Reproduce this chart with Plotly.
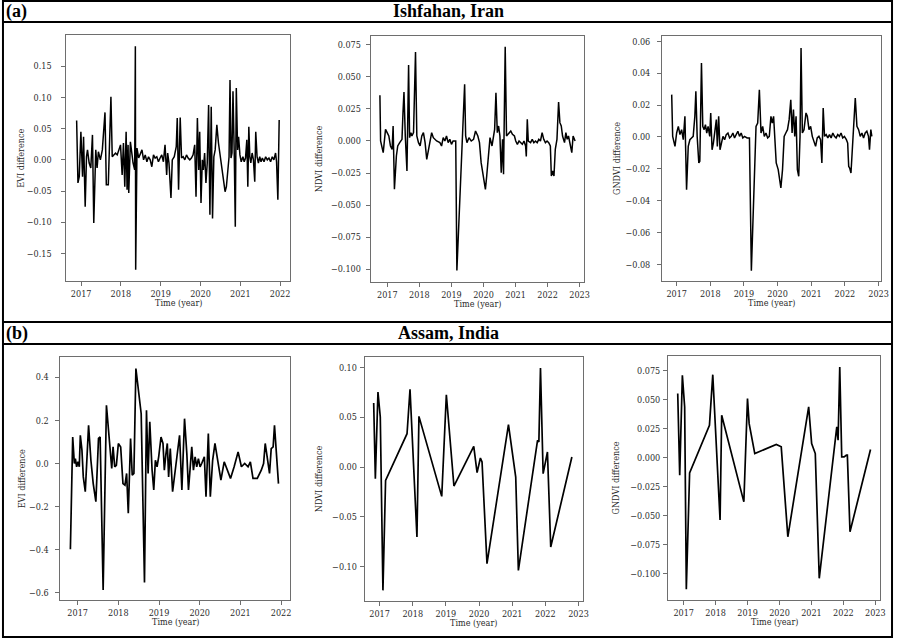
import plotly.graph_objects as go

W, H = 902, 639

# ---------------- Ishfahan, Iran ----------------
evi_a_t = [2016.887, 2016.920, 2016.953, 2016.994, 2017.036, 2017.061, 2017.102, 2017.135, 2017.160, 2017.202,
           2017.243, 2017.285, 2017.318, 2017.368, 2017.401, 2017.434, 2017.484, 2017.533, 2017.600, 2017.633,
           2017.683, 2017.749, 2017.782, 2017.824, 2017.865, 2017.907, 2017.948, 2017.990, 2018.031, 2018.064,
           2018.097, 2018.131, 2018.155, 2018.180, 2018.197, 2018.238, 2018.280, 2018.305, 2018.346, 2018.363,
           2018.371, 2018.404, 2018.446, 2018.487, 2018.529, 2018.570, 2018.611, 2018.653, 2018.694, 2018.736,
           2018.777, 2018.819, 2018.860, 2018.902, 2018.943, 2018.985, 2019.026, 2019.068, 2019.109, 2019.150,
           2019.175, 2019.208, 2019.258, 2019.291, 2019.341, 2019.391, 2019.416, 2019.449, 2019.490, 2019.524,
           2019.565, 2019.606, 2019.648, 2019.689, 2019.731, 2019.772, 2019.814, 2019.855, 2019.888, 2019.922,
           2019.955, 2019.980, 2020.013, 2020.046, 2020.071, 2020.104, 2020.137, 2020.170, 2020.204, 2020.237,
           2020.270, 2020.303, 2020.336, 2020.369, 2020.411, 2020.452, 2020.494, 2020.535, 2020.577, 2020.618,
           2020.651, 2020.684, 2020.718, 2020.742, 2020.767, 2020.792, 2020.817, 2020.850, 2020.875, 2020.900,
           2020.933, 2020.958, 2020.991, 2021.024, 2021.066, 2021.099, 2021.132, 2021.165, 2021.190, 2021.215,
           2021.240, 2021.265, 2021.298, 2021.331, 2021.364, 2021.389, 2021.422, 2021.456, 2021.489, 2021.522,
           2021.555, 2021.597, 2021.638, 2021.679, 2021.721, 2021.762, 2021.804, 2021.845, 2021.887, 2021.912,
           2021.945, 2021.978]
evi_a_v = [0.063, -0.037, -0.027, 0.045, -0.027, 0.037, -0.075, 0.005, 0.016, -0.005,
           -0.013, 0.040, -0.101, 0.016, -0.013, 0.013, 0.000, 0.016, 0.076, -0.040,
           -0.040, 0.101, 0.005, 0.008, 0.011, 0.008, 0.016, 0.024, -0.024, 0.027,
           -0.043, 0.045, -0.048, 0.024, -0.053, 0.029, 0.008, -0.005, -0.016, 0.182,
           -0.176, 0.019, 0.003, 0.011, 0.016, 0.000, 0.008, -0.003, 0.005, 0.000,
           -0.011, 0.008, 0.003, 0.005, -0.003, 0.003, 0.008, -0.003, 0.024, -0.024,
           0.011, -0.005, -0.061, 0.000, 0.005, 0.021, 0.067, -0.048, 0.068, 0.003,
           0.005, 0.000, 0.008, 0.003, 0.000, 0.003, 0.008, 0.024, -0.059, 0.067,
           -0.016, 0.045, -0.069, 0.000, -0.016, 0.011, -0.037, -0.005, 0.088, -0.088,
           0.085, -0.094, 0.005, 0.016, 0.056, 0.027, 0.005, -0.016, -0.035, -0.051,
           -0.043, -0.016, 0.005, 0.128, 0.003, 0.011, 0.110, 0.005, -0.107, 0.115,
           0.016, 0.037, 0.008, -0.003, 0.005, -0.003, 0.003, 0.032, -0.043, 0.053,
           0.005, -0.005, 0.011, 0.000, -0.035, 0.045, 0.005, -0.005, 0.005, -0.003,
           0.003, -0.003, 0.005, 0.000, 0.003, -0.003, 0.005, 0.000, 0.011, -0.003,
           -0.064, 0.064]

ndvi_a_t = [2016.768, 2016.789, 2016.871, 2016.943, 2016.994, 2017.046, 2017.097, 2017.149, 2017.180, 2017.221,
            2017.282, 2017.324, 2017.385, 2017.457, 2017.488, 2017.519, 2017.560, 2017.591, 2017.612, 2017.663,
            2017.694, 2017.735, 2017.766, 2017.817, 2017.879, 2017.920, 2017.972, 2018.023, 2018.075, 2018.126,
            2018.178, 2018.229, 2018.311, 2018.383, 2018.435, 2018.538, 2018.640, 2018.692, 2018.743, 2018.795,
            2018.846, 2018.898, 2018.949, 2019.001, 2019.052, 2019.134, 2019.170, 2019.340, 2019.412, 2019.443,
            2019.484, 2019.546, 2019.618, 2019.690, 2019.752, 2019.824, 2019.875, 2019.927, 2019.978, 2020.060,
            2020.101, 2020.153, 2020.204, 2020.266, 2020.307, 2020.348, 2020.389, 2020.431, 2020.472, 2020.513,
            2020.554, 2020.595, 2020.626, 2020.678, 2020.719, 2020.801, 2020.852, 2020.904, 2020.966, 2021.007,
            2021.058, 2021.110, 2021.161, 2021.213, 2021.264, 2021.315, 2021.336, 2021.367, 2021.398, 2021.470,
            2021.521, 2021.573, 2021.624, 2021.675, 2021.727, 2021.778, 2021.830, 2021.881, 2021.933, 2021.984,
            2022.036, 2022.087, 2022.118, 2022.159, 2022.200, 2022.241, 2022.293, 2022.344, 2022.385, 2022.427,
            2022.468, 2022.529, 2022.571, 2022.612, 2022.653, 2022.704, 2022.756, 2022.797, 2022.859]
ndvi_a_v = [0.0356, 0.0000, -0.0091, 0.0091, 0.0065, 0.0039, -0.0039, -0.0065, 0.0117, -0.0377,
            -0.0117, -0.0039, -0.0013, 0.0013, 0.0221, 0.0382, 0.0039, -0.0221, -0.0234, 0.0593,
            0.0026, 0.0065, 0.0039, 0.0065, 0.0694, 0.0039, -0.0013, -0.0039, 0.0039, 0.0065,
            -0.0013, -0.0143, -0.0039, 0.0065, 0.0026, 0.0000, -0.0013, -0.0039, 0.0026, 0.0000,
            0.0039, -0.0013, 0.0013, -0.0026, 0.0000, 0.0000, -0.1010, 0.0013, 0.0442, 0.0039,
            -0.0013, 0.0026, 0.0000, 0.0013, 0.0078, 0.0039, -0.0013, -0.0169, -0.0247, -0.0377,
            -0.0273, -0.0091, 0.0026, -0.0039, 0.0039, 0.0091, 0.0377, 0.0065, 0.0117, 0.0039,
            -0.0247, 0.0013, -0.0260, 0.0736, 0.0039, 0.0065, 0.0078, 0.0052, 0.0039, 0.0000,
            -0.0026, 0.0000, -0.0013, -0.0026, 0.0000, -0.0039, -0.0120, 0.0169, 0.0000, -0.0013,
            0.0013, -0.0013, 0.0000, -0.0013, 0.0013, 0.0000, 0.0065, 0.0013, -0.0013, 0.0000,
            -0.0013, -0.0039, -0.0273, -0.0234, -0.0273, -0.0065, 0.0013, 0.0304, 0.0143, 0.0117,
            0.0039, -0.0013, 0.0065, 0.0013, 0.0039, -0.0013, -0.0091, 0.0039, 0.0000]

gndvi_a_t = [2016.852, 2016.881, 2016.950, 2016.999, 2017.049, 2017.098, 2017.147, 2017.196, 2017.245, 2017.294,
             2017.344, 2017.393, 2017.442, 2017.491, 2017.540, 2017.570, 2017.609, 2017.658, 2017.688, 2017.737,
             2017.776, 2017.816, 2017.855, 2017.894, 2017.934, 2017.983, 2018.012, 2018.052, 2018.091, 2018.130,
             2018.179, 2018.209, 2018.248, 2018.288, 2018.327, 2018.376, 2018.425, 2018.474, 2018.524, 2018.573,
             2018.622, 2018.671, 2018.720, 2018.769, 2018.819, 2018.868, 2018.917, 2018.966, 2019.015, 2019.094,
             2019.163, 2019.220, 2019.359, 2019.408, 2019.458, 2019.507, 2019.556, 2019.605, 2019.654, 2019.704,
             2019.753, 2019.802, 2019.841, 2019.881, 2019.920, 2019.959, 2020.018, 2020.097, 2020.146, 2020.195,
             2020.244, 2020.294, 2020.343, 2020.392, 2020.431, 2020.471, 2020.510, 2020.549, 2020.588, 2020.628,
             2020.667, 2020.697, 2020.736, 2020.785, 2020.844, 2020.883, 2020.933, 2020.982, 2021.031, 2021.080,
             2021.129, 2021.178, 2021.228, 2021.277, 2021.316, 2021.355, 2021.395, 2021.444, 2021.493, 2021.542,
             2021.591, 2021.641, 2021.690, 2021.739, 2021.788, 2021.837, 2021.886, 2021.936, 2021.985, 2022.044,
             2022.083, 2022.113, 2022.142, 2022.181, 2022.221, 2022.260, 2022.309, 2022.358, 2022.408, 2022.457,
             2022.506, 2022.555, 2022.604, 2022.653, 2022.702, 2022.732, 2022.771, 2022.801]
gndvi_a_v = [0.0266, 0.0004, -0.0059, 0.0025, 0.0067, 0.0015, 0.0046, -0.0017, 0.0130, -0.0331,
             -0.0059, -0.0017, -0.0006, 0.0004, 0.0130, 0.0287, 0.0004, -0.0163, -0.0153, 0.0465,
             0.0067, 0.0046, 0.0077, 0.0025, 0.0067, 0.0004, 0.0151, -0.0080, -0.0038, 0.0046,
             0.0109, -0.0059, 0.0130, -0.0080, -0.0038, 0.0004, -0.0017, 0.0015, 0.0025, -0.0006,
             0.0004, 0.0025, -0.0006, 0.0015, 0.0036, 0.0004, 0.0025, -0.0006, 0.0004, -0.0006,
             -0.0006, -0.0840, 0.0067, 0.0088, 0.0297, 0.0025, 0.0067, 0.0004, 0.0025, -0.0006,
             0.0004, 0.0130, 0.0088, 0.0130, 0.0004, -0.0163, -0.0205, -0.0320, -0.0205, 0.0004,
             0.0025, 0.0046, 0.0109, 0.0234, 0.0025, 0.0172, 0.0004, 0.0130, -0.0205, -0.0247,
             0.0004, 0.0559, 0.0025, 0.0046, 0.0151, 0.0130, 0.0046, 0.0067, 0.0004, -0.0027,
             -0.0059, -0.0006, 0.0004, -0.0017, -0.0163, 0.0182, 0.0004, 0.0015, -0.0006, 0.0015,
             -0.0006, 0.0025, 0.0004, -0.0006, 0.0015, 0.0004, 0.0025, -0.0006, 0.0004, -0.0017,
             -0.0038, -0.0184, -0.0195, -0.0226, -0.0080, 0.0004, 0.0245, 0.0067, 0.0046, 0.0004,
             0.0025, -0.0006, 0.0025, 0.0036, 0.0004, -0.0080, 0.0046, 0.0004]

# ---------------- Assam, India ----------------
evi_b_t = [2016.822, 2016.879, 2016.919, 2016.944, 2016.976, 2017.009, 2017.041, 2017.066, 2017.106, 2017.139,
           2017.188, 2017.269, 2017.326, 2017.383, 2017.448, 2017.513, 2017.553, 2017.627, 2017.708, 2017.789,
           2017.838, 2017.871, 2017.911, 2017.952, 2018.001, 2018.058, 2018.114, 2018.163, 2018.204, 2018.245,
           2018.301, 2018.342, 2018.383, 2018.432, 2018.562, 2018.643, 2018.692, 2018.732, 2018.773, 2018.830,
           2018.871, 2018.911, 2018.952, 2018.992, 2019.049, 2019.098, 2019.131, 2019.171, 2019.204, 2019.236,
           2019.277, 2019.334, 2019.399, 2019.456, 2019.505, 2019.562, 2019.627, 2019.684, 2019.724, 2019.805,
           2019.846, 2019.887, 2019.927, 2019.968, 2020.009, 2020.049, 2020.114, 2020.155, 2020.212, 2020.261,
           2020.318, 2020.375, 2020.440, 2020.521, 2020.602, 2020.684, 2020.757, 2020.846, 2020.944, 2021.025,
           2021.106, 2021.188, 2021.245, 2021.310, 2021.415, 2021.513, 2021.570, 2021.610, 2021.659, 2021.716,
           2021.757, 2021.805, 2021.838, 2021.887, 2021.936]
evi_b_v = [-0.398, 0.123, 0.000, 0.023, -0.015, 0.008, -0.015, 0.131, 0.062, -0.062,
           -0.131, 0.177, 0.015, -0.093, -0.177, 0.116, 0.123, -0.586, 0.270, 0.108,
           -0.023, 0.077, -0.015, -0.008, 0.093, 0.077, -0.093, -0.100, -0.046, -0.231,
           0.116, -0.054, -0.046, 0.440, 0.231, -0.552, 0.247, -0.046, 0.193, -0.031,
           -0.123, 0.015, -0.015, 0.031, 0.123, 0.093, -0.031, 0.046, 0.093, -0.062,
           0.069, -0.131, -0.031, 0.062, 0.131, -0.123, 0.208, 0.046, -0.123, 0.077,
           -0.031, 0.031, -0.015, 0.023, -0.015, 0.000, 0.031, -0.154, 0.139, -0.154,
           0.015, 0.093, 0.015, -0.077, 0.008, -0.031, -0.069, -0.015, 0.054, -0.015,
           0.000, -0.015, 0.008, -0.069, -0.069, -0.031, 0.000, 0.093, 0.031, -0.046,
           0.069, 0.077, 0.177, 0.031, -0.093]

ndvi_b_t = [2016.822, 2016.872, 2016.951, 2017.021, 2017.101, 2017.181, 2017.828, 2017.918, 2018.127, 2018.187,
            2018.875, 2019.014, 2019.243, 2019.841, 2019.941, 2020.041, 2020.091, 2020.240, 2020.888, 2021.107,
            2021.187, 2021.765, 2021.805, 2021.854, 2021.934, 2022.064, 2022.163, 2022.801]
ndvi_b_v = [0.0643, -0.0117, 0.0754, 0.0503, -0.1240, -0.0134, 0.0335, 0.0781, -0.0704, 0.0509,
            -0.0295, 0.0727, -0.0191, 0.0208, -0.0057, 0.0090, 0.0050, -0.0972, 0.0425, -0.0101,
            -0.1039, 0.0268, 0.0251, 0.0995, -0.0067, 0.0151, -0.0804, 0.0101]

gndvi_b_t = [2016.814, 2016.876, 2016.959, 2017.031, 2017.083, 2017.186, 2017.807, 2017.911, 2018.139, 2018.190,
             2018.884, 2018.998, 2019.050, 2019.226, 2019.899, 2020.054, 2020.261, 2020.913, 2021.006, 2021.120,
             2021.244, 2021.793, 2021.834, 2021.886, 2021.948, 2022.021, 2022.093, 2022.124, 2022.207, 2022.849]
gndvi_b_v = [0.0554, -0.0149, 0.0711, 0.0439, -0.1133, -0.0129, 0.0281, 0.0717, -0.0536, 0.0367,
             -0.0379, 0.0511, 0.0295, 0.0037, 0.0115, 0.0095, -0.0680, 0.0439, 0.0123, 0.0037,
             -0.1038, 0.0267, 0.0152, 0.0783, 0.0009, 0.0009, 0.0023, 0.0023, -0.0637, 0.0072]

years_short = [2017, 2018, 2019, 2020, 2021, 2022]
years_long = [2017, 2018, 2019, 2020, 2021, 2022, 2023]

region_titles = ["Ishfahan, Iran", "Assam, India"]
panel_tags = ["(a)", "(b)"]

# panel specs: data, y label, frame box (left, top, right, bottom px), x range, y range,
# y ticks, tick format, x ticks, line width, tick-label standoff, y-title x position
panels = [
    (evi_a_t, evi_a_v, "EVI difference", (67, 35, 293, 281), [2016.63, 2022.26], [-0.194, 0.200],
     [-0.15, -0.10, -0.05, 0.0, 0.05, 0.10, 0.15], ".2f", years_short, 1.5, 8, 21),
    (ndvi_a_t, ndvi_a_v, "NDVI difference", (374, 36, 589, 282), [2016.48, 2023.13], [-0.110, 0.0819],
     [-0.100, -0.075, -0.050, -0.025, 0.0, 0.025, 0.050, 0.075], ".3f", years_long, 1.5, 3, 322),
    (gndvi_a_t, gndvi_a_v, "GNDVI difference", (668, 36, 889, 281), [2016.566, 2023.077], [-0.0904, 0.0634],
     [-0.08, -0.06, -0.04, -0.02, 0.0, 0.02, 0.04, 0.06], ".2f", years_long, 1.5, 5, 622),
    (evi_b_t, evi_b_v, "EVI difference", (61, 357, 293, 600), [2016.578, 2022.229], [-0.633, 0.494],
     [-0.6, -0.4, -0.2, 0.0, 0.2, 0.4], ".1f", years_short, 1.7, 5, 22),
    (ndvi_b_t, ndvi_b_v, "NDVI difference", (368, 357, 588, 601), [2016.552, 2023.13], [-0.1347, 0.1106],
     [-0.10, -0.05, 0.0, 0.05, 0.10], ".2f", years_long, 1.7, 1, 322),
    (gndvi_b_t, gndvi_b_v, "GNDVI difference", (674, 356, 888, 600), [2016.51, 2023.15], [-0.1225, 0.0878],
     [-0.100, -0.075, -0.050, -0.025, 0.0, 0.025, 0.050, 0.075], ".3f", years_long, 1.7, 1, 622),
]


def fx(px):
    return px / W


def fy(py):
    return 1 - py / H


TXT = "#2b2b2b"
SPINE = "#6e6e6e"
serif = "DejaVu Serif Condensed, DejaVu Serif"

fig = go.Figure()
annotations = []
layout_axes = {}

for i, (t, v, ylab, box, xr, yr, yt, yfmt, xt, lw, standoff, ytx) in enumerate(panels, start=1):
    left, top, right, bottom = box
    xa = "x" if i == 1 else f"x{i}"
    ya = "y" if i == 1 else f"y{i}"
    fig.add_trace(go.Scatter(x=t, y=v, mode="lines", line=dict(color="black", width=lw),
                             xaxis=xa, yaxis=ya, showlegend=False, hoverinfo="skip"))
    common = dict(showgrid=False, zeroline=False, showline=True, mirror=True, linecolor=SPINE,
                  linewidth=1, ticks="outside", ticklen=4, tickwidth=1, tickcolor=SPINE,
                  tickfont=dict(family=serif, size=9, color=TXT))
    layout_axes["xaxis" if i == 1 else f"xaxis{i}"] = dict(
        domain=[fx(left), fx(right)], range=xr, anchor=ya, tickvals=xt,
        ticktext=[str(y) for y in xt], **common)
    layout_axes["yaxis" if i == 1 else f"yaxis{i}"] = dict(
        domain=[fy(bottom), fy(top)], range=yr, anchor=xa, tickvals=yt, tickformat=yfmt,
        ticklabelstandoff=standoff, **common)
    # axis titles
    annotations.append(dict(text=ylab, xref="paper", yref="paper", x=fx(ytx), y=fy((top + bottom) / 2),
                            textangle=-90, showarrow=False, xanchor="center", yanchor="middle",
                            font=dict(family=serif, size=9, color=TXT)))
    annotations.append(dict(text="Time (year)", xref="paper", yref="paper", x=fx((left + right) / 2),
                            y=fy(bottom + 22), showarrow=False, xanchor="center", yanchor="middle",
                            font=dict(family=serif, size=9, color=TXT)))

# region headers
for tag, title, yc in zip(panel_tags, region_titles, [11, 333]):
    annotations.append(dict(text=f"<b>{tag}</b>", xref="paper", yref="paper", x=fx(4), y=fy(yc),
                            xanchor="left", yanchor="middle", showarrow=False,
                            font=dict(family="Liberation Serif", size=18, color="black")))
    annotations.append(dict(text=f"<b>{title}</b>", xref="paper", yref="paper", x=fx(453), y=fy(yc),
                            xanchor="center", yanchor="middle", showarrow=False,
                            font=dict(family="Liberation Serif", size=18, color="black")))

shapes = [
    dict(type="rect", xref="paper", yref="paper", x0=fx(3), x1=fx(900), y0=fy(637), y1=fy(1),
         line=dict(color="black", width=2)),
]
for yl in [22, 322, 344]:
    shapes.append(dict(type="line", xref="paper", yref="paper", x0=fx(3), x1=fx(900), y0=fy(yl), y1=fy(yl),
                       line=dict(color="black", width=2)))

fig.update_layout(width=W, height=H, margin=dict(l=0, r=0, t=0, b=0),
                  paper_bgcolor="white", plot_bgcolor="white",
                  annotations=annotations, shapes=shapes, **layout_axes)

fig.write_html("out.html")
